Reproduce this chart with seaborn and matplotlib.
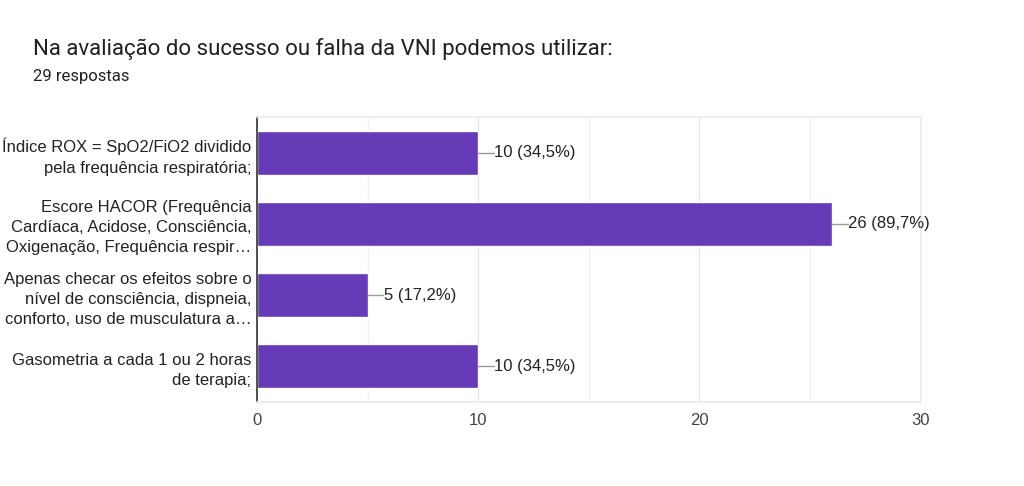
import pandas as pd
import seaborn as sns
import matplotlib.pyplot as plt

categories = [
    "Índice ROX = SpO2/FiO2 dividido\npela frequência respiratória;",
    "Escore HACOR (Frequência\nCardíaca, Acidose, Consciência,\nOxigenação, Frequência respir…",
    "Apenas checar os efeitos sobre o\nnível de consciência, dispneia,\nconforto, uso de musculatura a…",
    "Gasometria a cada 1 ou 2 horas\nde terapia;",
]
counts = [10, 26, 5, 10]
pct_labels = ["10 (34,5%)", "26 (89,7%)", "5 (17,2%)", "10 (34,5%)"]
total = 29

df = pd.DataFrame({"opcao": categories, "n": counts})

sns.set_theme(style="white")
plt.rcParams['font.family'] = ['Liberation Sans', 'DejaVu Sans']

fig = plt.figure(figsize=(10.24, 4.86), dpi=100)
ax = fig.add_axes([0.251, 0.173, 0.648, 0.586])

sns.barplot(data=df, x="n", y="opcao", color="#673ab7", width=0.62,
            saturation=1, ax=ax, orient="h")

ax.set_xlim(0, 30)
ax.set_ylim(3.5, -0.5)
ax.set_xticks([0, 10, 20, 30])
ax.set_xticks([5, 15, 25], minor=True)
ax.grid(axis="x", which="major", color="#e6e6e6", lw=1)
ax.grid(axis="x", which="minor", color="#f2f2f2", lw=1)
ax.set_axisbelow(True)
ax.set_xlabel("")
ax.set_ylabel("")

for s in ["top", "right", "bottom"]:
    ax.spines[s].set_color("#ebebeb")
ax.spines["left"].set_color("#333333")
ax.spines["left"].set_linewidth(1.2)

ax.tick_params(axis="x", length=0, labelsize=12, labelcolor="#444444", pad=8)
ax.tick_params(axis="y", length=0, labelsize=12, labelcolor="#222222", pad=4)
for t in ax.get_yticklabels():
    t.set_linespacing(1.42)

for i, (v, lab) in enumerate(zip(counts, pct_labels)):
    ax.plot([v, v + 0.7], [i, i], color="#999999", lw=1)
    ax.text(v + 0.72, i, lab, va="center", ha="left", fontsize=12, color="#222222")

fig.text(0.032, 0.9, "Na avaliação do sucesso ou falha da VNI podemos utilizar:",
         fontsize=16, color="#202124", va="center", family=['Roboto', 'DejaVu Sans'])
fig.text(0.032, 0.842, f"{total} respostas", fontsize=12, color="#202124", va="center",
         family=['Roboto', 'DejaVu Sans'])

fig.savefig("out.png", dpi=100, facecolor="white")
